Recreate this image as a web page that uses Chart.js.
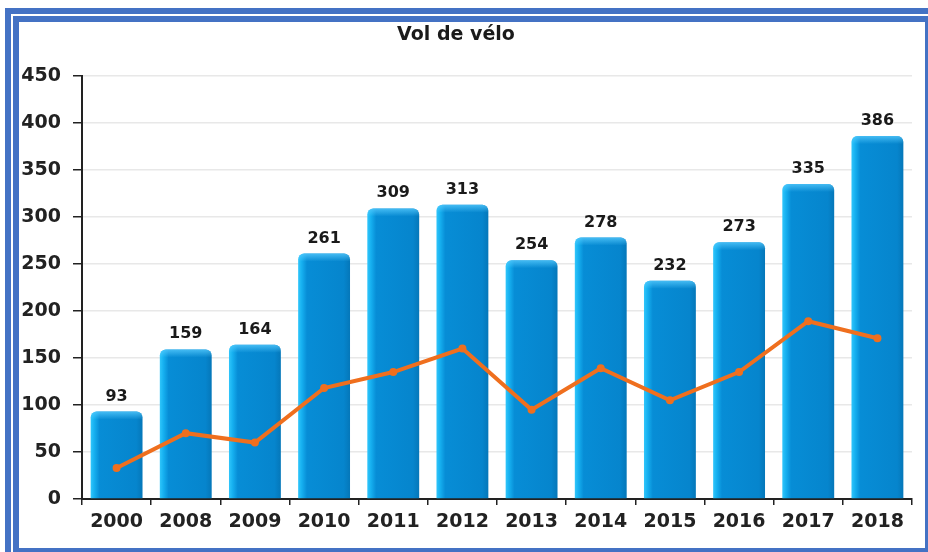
<!DOCTYPE html>
<html>
<head>
<meta charset="utf-8">
<script src="https://cdn.jsdelivr.net/npm/chart.js@4.4.1/dist/chart.umd.min.js"></script>
<style>
  html, body { margin: 0; padding: 0; background: #fff; width: 928px; height: 552px; overflow: hidden; }
  #wrap { position: absolute; left: 0; top: 0; width: 922px; height: 552px; }
  .f { position: absolute; background: #4472C4; }
</style>
</head>
<body>
<div id="wrap"><canvas id="c"></canvas></div>
<!-- outer frame -->
<div class="f" style="left:5px;top:8px;width:923px;height:6px"></div>
<div class="f" style="left:5px;top:8px;width:6px;height:544px"></div>
<!-- inner frame -->
<div class="f" style="left:13px;top:16px;width:915px;height:6px"></div>
<div class="f" style="left:13px;top:16px;width:6px;height:536px"></div>
<div class="f" style="left:925px;top:16px;width:3px;height:536px"></div>
<div class="f" style="left:13px;top:548px;width:915px;height:4px"></div>
<script>
const categories = ['2000','2008','2009','2010','2011','2012','2013','2014','2015','2016','2017','2018'];
const barValues  = [93, 159, 164, 261, 309, 313, 254, 278, 232, 273, 335, 386];
const lineValues = [33, 70, 60, 118, 135, 160, 95, 139, 105, 135, 189, 171];
const yTicks = [0, 50, 100, 150, 200, 250, 300, 350, 400, 450];
const chartTitle = 'Vol de vélo';

const BAR_PCT = 0.75;

function barFill(ctx) {
  const chart = ctx.chart;
  const area = chart.chartArea;
  const xs = chart.scales && chart.scales.x;
  if (!area || !xs) return '#0788d0';
  const cx = xs.getPixelForValue(ctx.dataIndex);
  const w = (area.width / categories.length) * BAR_PCT;
  const g = chart.ctx.createLinearGradient(cx - w / 2, 0, cx + w / 2, 0);
  g.addColorStop(0, '#30c6fb');
  g.addColorStop(0.07, '#16b0f0');
  g.addColorStop(0.17, '#078dd6');
  g.addColorStop(0.88, '#0685cd');
  g.addColorStop(1, '#0577b9');
  return g;
}

const barTopShine = {
  id: 'barTopShine',
  afterDatasetDraw(chart, args) {
    if (args.index !== 1) return;
    const c = chart.ctx;
    c.save();
    args.meta.data.forEach((el) => {
      const w = el.width, x0 = el.x - w / 2, y0 = el.y;
      const g = c.createLinearGradient(0, y0, 0, y0 + 8);
      g.addColorStop(0, 'rgba(90,205,255,0.75)');
      g.addColorStop(1, 'rgba(90,205,255,0)');
      c.fillStyle = g;
      c.beginPath();
      if (c.roundRect) c.roundRect(x0, y0, w, 8, [6, 6, 0, 0]); else c.rect(x0, y0, w, 8);
      c.fill();
    });
    c.restore();
  }
};

const barLabels = {
  id: 'barLabels',
  afterDatasetsDraw(chart) {
    const meta = chart.getDatasetMeta(1);
    const c = chart.ctx;
    c.save();
    c.font = 'bold 16px "DejaVu Sans", sans-serif';
    c.fillStyle = '#1a1a1a';
    c.textAlign = 'center';
    c.textBaseline = 'alphabetic';
    meta.data.forEach((el, i) => {
      c.fillText(String(barValues[i]), el.x, el.y - 11);
    });
    c.restore();
  }
};

new Chart(document.getElementById('c'), {
  data: {
    labels: categories,
    datasets: [
      {
        type: 'line',
        data: lineValues,
        borderColor: '#EF6F1E',
        backgroundColor: '#EF6F1E',
        borderWidth: 4,
        pointRadius: 4,
        pointBorderWidth: 0,
        pointBackgroundColor: '#EF6F1E',
        tension: 0,
        order: 0
      },
      {
        type: 'bar',
        data: barValues,
        backgroundColor: barFill,
        borderWidth: 0,
        borderRadius: { topLeft: 6, topRight: 6, bottomLeft: 0, bottomRight: 0 },
        borderSkipped: false,
        barPercentage: BAR_PCT,
        categoryPercentage: 1,
        order: 1
      }
    ]
  },
  options: {
    responsive: true,
    maintainAspectRatio: false,
    animation: false,
    layout: { padding: { left: 0, right: 10, top: 0, bottom: 0 } },
    plugins: {
      legend: { display: false },
      tooltip: { enabled: false },
      title: {
        display: true,
        text: chartTitle,
        color: '#1a1a1a',
        font: { family: '"DejaVu Sans", sans-serif', size: 19, weight: 'bold' },
        padding: { top: 24, bottom: 29 }
      }
    },
    scales: {
      x: {
        type: 'category',
        offset: true,
        grid: { display: true, drawOnChartArea: false, drawTicks: true, tickLength: 6, color: '#222', offset: true, lineWidth: 1.5 },
        border: { display: true, color: '#222', width: 2 },
        ticks: {
          color: '#222',
          padding: 6,
          maxRotation: 0,
          autoSkip: false,
          font: { family: '"DejaVu Sans", sans-serif', size: 19, weight: 'bold' }
        },
        afterFit(s) { s.height = 53; }
      },
      y: {
        min: 0,
        max: 450,
        afterBuildTicks(s) { s.ticks = yTicks.map(v => ({ value: v })); },
        grid: { color: '#e8e8e8', lineWidth: 1.5, drawTicks: true, tickLength: 9, tickColor: '#222', tickWidth: 1.5 },
        border: { display: true, color: '#222', width: 2 },
        ticks: {
          color: '#222',
          padding: 12,
          font: { family: '"DejaVu Sans", sans-serif', size: 19, weight: 'bold' }
        },
        afterFit(s) { s.width = 82; }
      }
    }
  },
  plugins: [barTopShine, barLabels]
});
</script>
</body>
</html>
